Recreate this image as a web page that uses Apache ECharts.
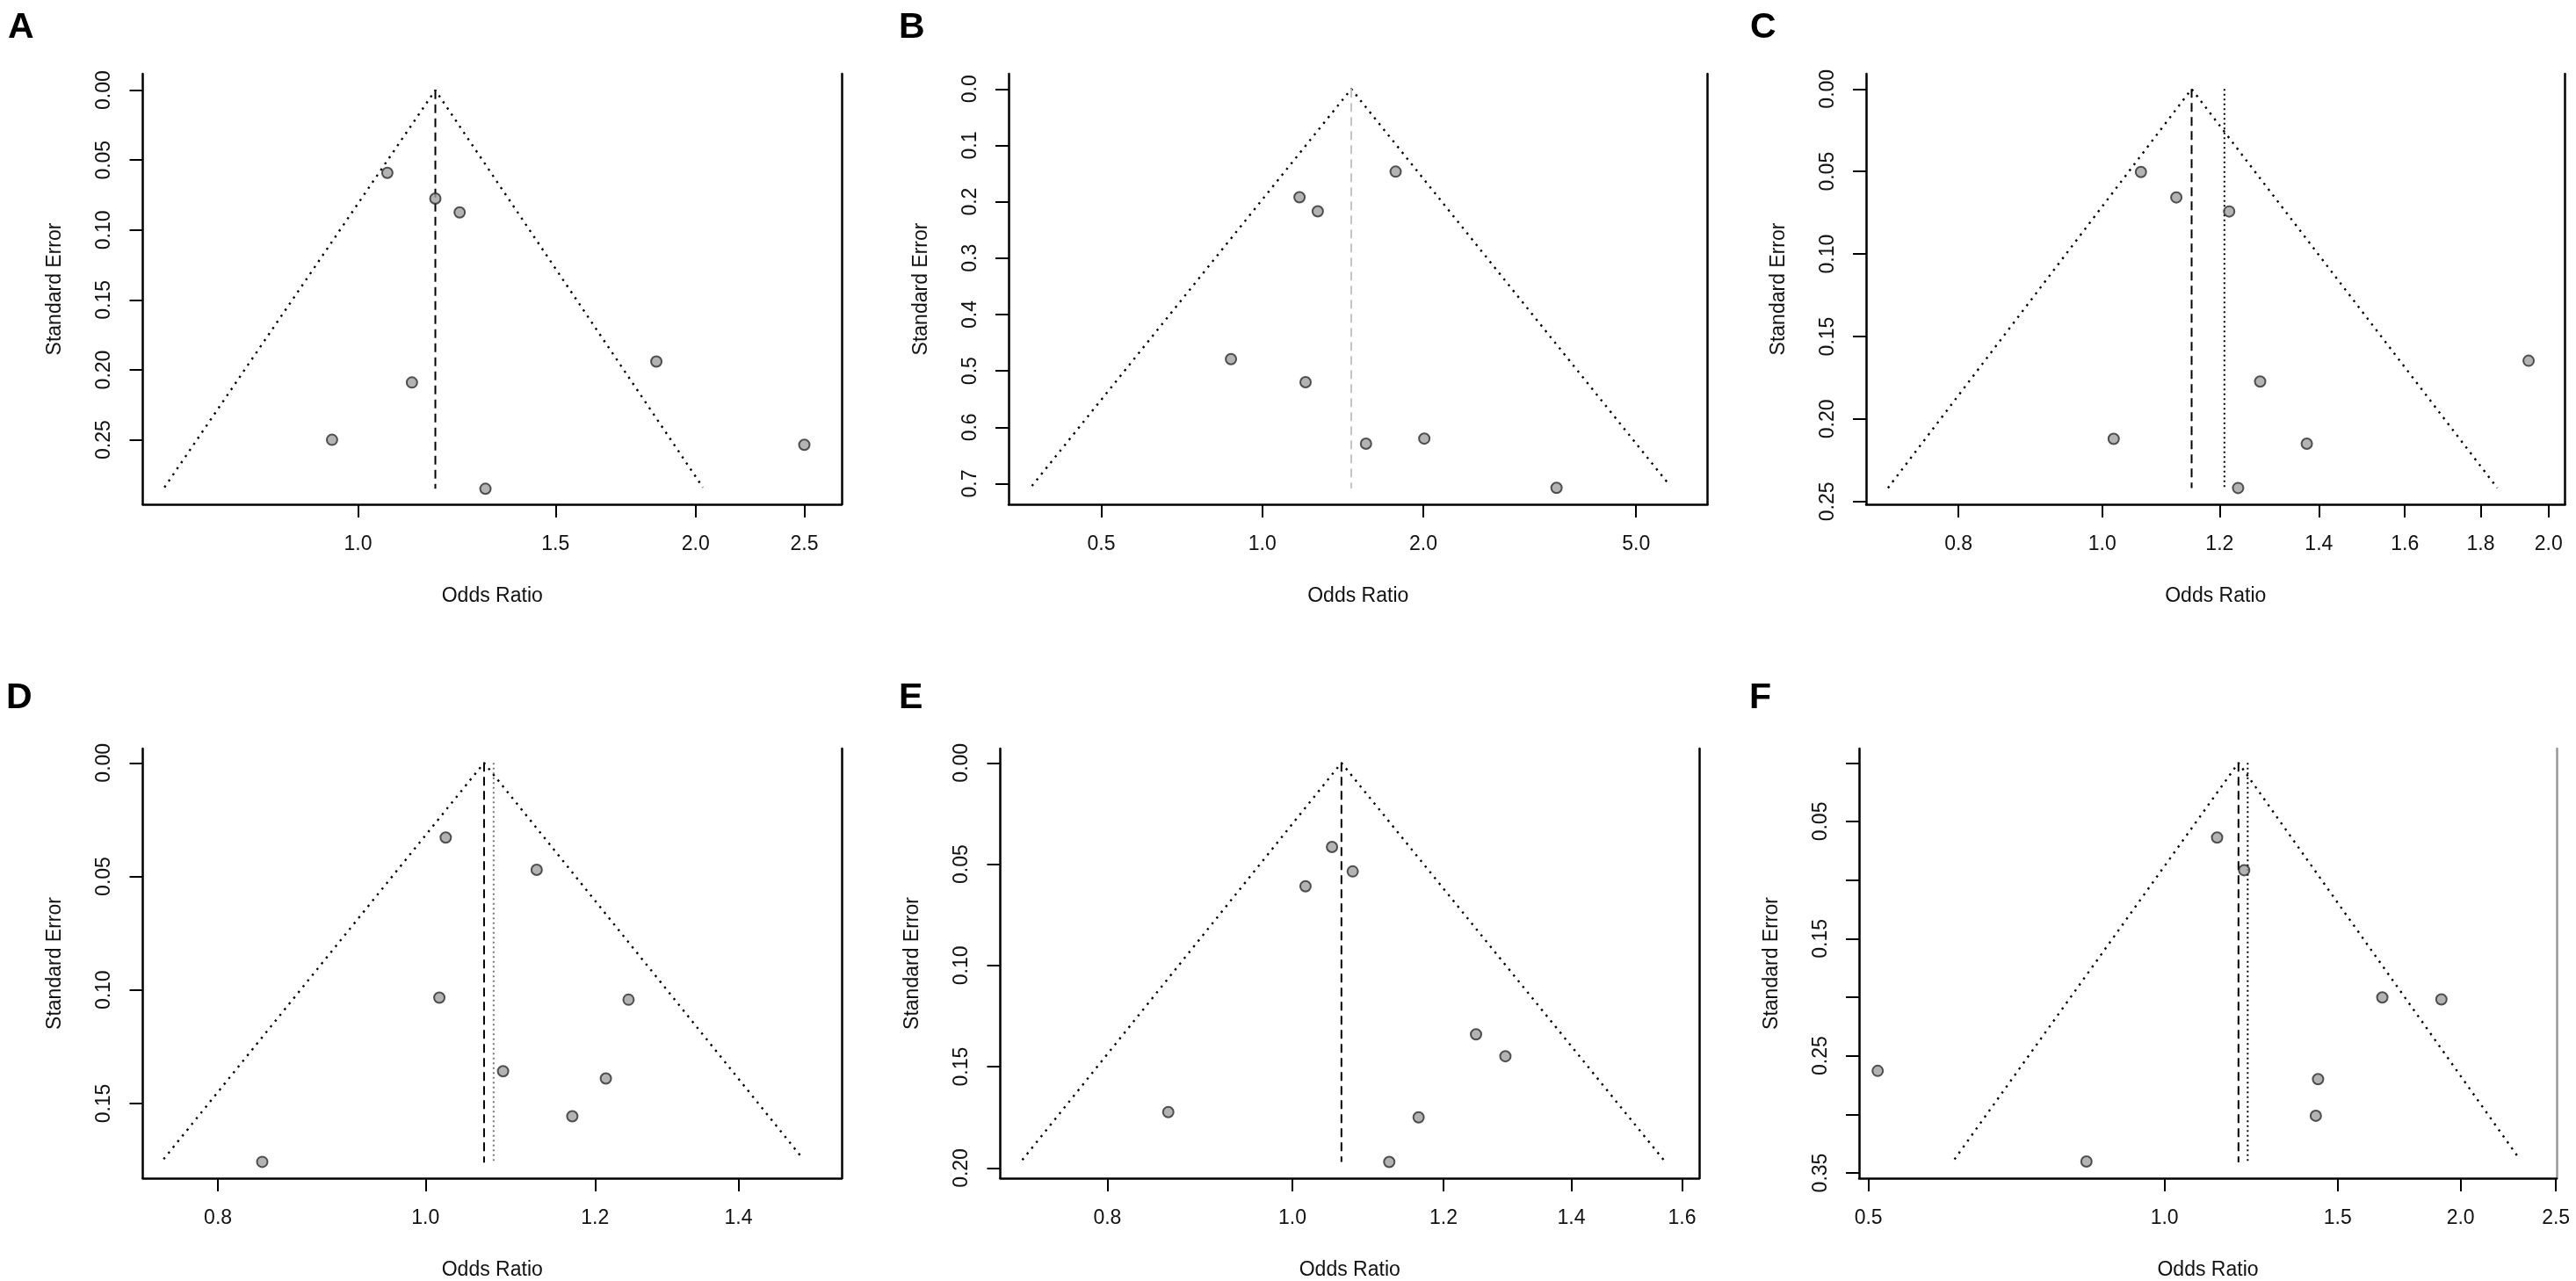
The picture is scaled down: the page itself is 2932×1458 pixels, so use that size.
<!DOCTYPE html>
<html><head><meta charset="utf-8">
<script src="https://cdn.jsdelivr.net/npm/echarts@6/dist/echarts.min.js"></script>
<style>html,body{margin:0;padding:0;background:#fff}#c{width:2932px;height:1458px}</style>
</head><body><div id="c"></div>
<script>
// ---------- data ----------
const letters = ['A', 'B', 'C', 'D', 'E', 'F'];

// Odds ratios and standard errors of the studies in each panel
const orA = [1.062, 1.172, 1.232, 1.845, 1.117, 0.948, 2.50, 1.299];
const seA = [0.0591, 0.0775, 0.0874, 0.194, 0.209, 0.250, 0.2535, 0.285];
const orB = [1.776, 1.174, 1.27, 0.874, 1.205, 1.563, 2.009, 3.55];
const seB = [0.1466, 0.192, 0.217, 0.479, 0.520, 0.629, 0.620, 0.7075];
const orC = [1.062, 1.122, 1.218, 1.939, 1.278, 1.018, 1.374, 1.235];
const seC = [0.0503, 0.0657, 0.0742, 0.1647, 0.1773, 0.212, 0.215, 0.2418];
const orD = [1.022, 1.127, 1.015, 1.244, 1.087, 1.214, 1.171, 0.839];
const seD = [0.0329, 0.0471, 0.1034, 0.1043, 0.1358, 0.139, 0.1556, 0.1757];
const orE = [1.049, 1.0755, 1.016, 1.248, 1.293, 0.861, 1.1645, 1.124];
const seE = [0.0415, 0.0536, 0.0609, 0.134, 0.1448, 0.1724, 0.175, 0.197];
const orF = [1.131, 1.205, 1.665, 1.912, 0.511, 1.4325, 1.425, 0.833];
const seF = [0.0637, 0.0916, 0.2002, 0.2019, 0.2629, 0.2699, 0.3012, 0.3402];

// funnel: [apex OR, SE at base, OR at lower base corner, OR at upper base corner]
const funnelA = [1.172, 0.284, 0.672, 2.03];
const funnelB = [1.467, 0.704, 0.371, 5.79];
const funnelC = [1.149, 0.2418, 0.717, 1.847];
const funnelD = [1.065, 0.1745, 0.7546, 1.501];
const funnelE = [1.061, 0.196, 0.722, 1.565];
const funnelF = [1.189, 0.3384, 0.6116, 2.297];

// pooled estimates drawn as vertical lines: [dashed OR, dotted OR or null, SE where the line ends]
const centerA = [1.172, null, 0.285];
const centerB = [1.467, null, 0.708];
const centerC = [1.149, 1.209, 0.2418];
const centerD = [1.065, 1.076, 0.176];
const centerE = [1.061, null, 0.197];
const centerF = [1.189, 1.215, 0.341];

// tick values
const xTicksA = [1.0, 1.5, 2.0, 2.5];
const xTicksB = [0.5, 1.0, 2.0, 5.0];
const xTicksC = [0.8, 1.0, 1.2, 1.4, 1.6, 1.8, 2.0];
const xTicksD = [0.8, 1.0, 1.2, 1.4];
const xTicksE = [0.8, 1.0, 1.2, 1.4, 1.6];
const xTicksF = [0.5, 1.0, 1.5, 2.0, 2.5];
const yTicksA = [0, 0.05, 0.10, 0.15, 0.20, 0.25];
const yTicksB = [0, 0.1, 0.2, 0.3, 0.4, 0.5, 0.6, 0.7];
const yTicksC = [0, 0.05, 0.10, 0.15, 0.20, 0.25];
const yTicksD = [0, 0.05, 0.10, 0.15];
const yTicksE = [0, 0.05, 0.10, 0.15, 0.20];
const yTicksF = [0, 0.05, 0.10, 0.15, 0.20, 0.25, 0.30, 0.35];
const yLabelsF = [0.05, 0.15, 0.25, 0.35];

// ---------- layout ----------
const FONT = 'Liberation Sans';
const TXT = '#111';
const panels = [
  {or: orA, se: seA, fun: funnelA, cen: centerA, xt: xTicksA, yt: yTicksA, yl: yTicksA, dec: 2,
   box: [162.5, 84, 795.5, 490], xr: [-0.442, 0.993], yr: [-0.0117, 0.2961], lt: [9, 11], cenColor: '#000'},
  {or: orB, se: seB, fun: funnelB, cen: centerB, xt: xTicksB, yt: yTicksB, yl: yTicksB, dec: 1,
   box: [1148, 84, 795.5, 490], xr: [-1.092, 1.917], yr: [-0.0269, 0.7366], lt: [1023, 11], cenColor: '#c4c4c4'},
  {or: orC, se: seC, fun: funnelC, cen: centerC, xt: xTicksC, yt: yTicksC, yl: yTicksC, dec: 2,
   box: [2124, 84, 795.5, 490], xr: [-0.3666, 0.7187], yr: [-0.0092, 0.2517], lt: [1992, 11], cenColor: '#000'},
  {or: orD, se: seD, fun: funnelD, cen: centerD, xt: xTicksD, yt: yTicksD, yl: yTicksD, dec: 2,
   box: [162.5, 852, 795.5, 490], xr: [-0.304, 0.4475], yr: [-0.0063, 0.1829], lt: [7, 774], cenColor: '#000', dotColor: '#777'},
  {or: orE, se: seE, fun: funnelE, cen: centerE, xt: xTicksE, yt: yTicksE, yl: yTicksE, dec: 2,
   box: [1138.5, 852, 795.5, 490], xr: [-0.3523, 0.4907], yr: [-0.00705, 0.205], lt: [1023, 774], cenColor: '#000'},
  {or: orF, se: seF, fun: funnelF, cen: centerF, xt: xTicksF, yt: yTicksF, yl: yLabelsF, dec: 2,
   box: [2116, 852, 794, 490], xr: [-0.715, 0.918], yr: [-0.0122, 0.3545], lt: [1991, 774], cenColor: '#000', rightColor: '#999'}
];

const grid = [], xAxis = [], yAxis = [], series = [], graphic = [];
panels.forEach((p, i) => {
  grid.push({left: p.box[0], top: p.box[1], width: p.box[2], height: p.box[3], containLabel: false});
  const lineS = {color: '#000', width: 2.5};
  xAxis.push({
    type: 'value', gridIndex: i, min: p.xr[0], max: p.xr[1],
    name: 'Odds Ratio', nameLocation: 'middle', nameGap: 93,
    nameTextStyle: {fontFamily: FONT, fontSize: 23, color: TXT},
    axisLine: {show: true, onZero: false, lineStyle: lineS},
    axisTick: {show: true, length: 15, lineStyle: {color: '#000', width: 2}, customValues: p.xt.map(Math.log)},
    axisLabel: {show: true, margin: 34, fontFamily: FONT, fontSize: 23, color: TXT,
      customValues: p.xt.map(Math.log), formatter: v => Math.exp(v).toFixed(1)},
    splitLine: {show: false}
  });
  yAxis.push({
    type: 'value', gridIndex: i, min: p.yr[0], max: p.yr[1], inverse: true,
    name: 'Standard Error', nameLocation: 'middle', nameGap: 88,
    nameTextStyle: {fontFamily: FONT, fontSize: 23, color: TXT},
    axisLine: {show: true, onZero: false, lineStyle: lineS},
    axisTick: {show: true, length: 15, lineStyle: {color: '#000', width: 2}, customValues: p.yt},
    axisLabel: {show: true, rotate: 90, margin: 32, fontFamily: FONT, fontSize: 23, color: TXT,
      customValues: p.yl, formatter: v => v.toFixed(p.dec)},
    splitLine: {show: false}
  });
  yAxis.push({
    type: 'value', gridIndex: i, min: p.yr[0], max: p.yr[1], inverse: true, position: 'right',
    axisLine: {show: true, onZero: false, lineStyle: {color: p.rightColor || '#000', width: 2.5}},
    axisTick: {show: false}, axisLabel: {show: false}, splitLine: {show: false}
  });
  const xi = i, yi = 2 * i;
  // funnel
  series.push({
    type: 'line', xAxisIndex: xi, yAxisIndex: yi, silent: true, showSymbol: false, symbol: 'none',
    data: [[Math.log(p.fun[2]), p.fun[1]], [Math.log(p.fun[0]), 0], [Math.log(p.fun[3]), p.fun[1]]],
    lineStyle: {color: '#000', width: 2.4, type: [2.4, 6]}, z: 2
  });
  // dashed pooled line
  series.push({
    type: 'line', xAxisIndex: xi, yAxisIndex: yi, silent: true, showSymbol: false, symbol: 'none',
    data: [[Math.log(p.cen[0]), 0], [Math.log(p.cen[0]), p.cen[2]]],
    lineStyle: {color: p.cenColor, width: 2, type: [10, 6]}, z: 2
  });
  if (p.cen[1] !== null) {
    series.push({
      type: 'line', xAxisIndex: xi, yAxisIndex: yi, silent: true, showSymbol: false, symbol: 'none',
      data: [[Math.log(p.cen[1]), 0], [Math.log(p.cen[1]), p.cen[2]]],
      lineStyle: {color: p.dotColor || '#000', width: 2, type: [2, 3.5]}, z: 2
    });
  }
  // studies
  series.push({
    type: 'scatter', xAxisIndex: xi, yAxisIndex: yi, symbol: 'circle', symbolSize: 12,
    data: p.or.map((v, j) => [Math.log(v), p.se[j]]),
    itemStyle: {color: '#a0a0a0', borderColor: '#2a2a2a', borderWidth: 2}, z: 5
  });
  graphic.push({
    type: 'text', left: p.lt[0], top: p.lt[1],
    style: {text: letters[i], font: 'bold 41px "Liberation Sans"', fill: '#000'}
  });
});

const chart = echarts.init(document.getElementById('c'), null, {renderer: 'canvas'});
chart.setOption({animation: false, backgroundColor: '#fff', grid, xAxis, yAxis, series, graphic});
</script>
</body></html>
